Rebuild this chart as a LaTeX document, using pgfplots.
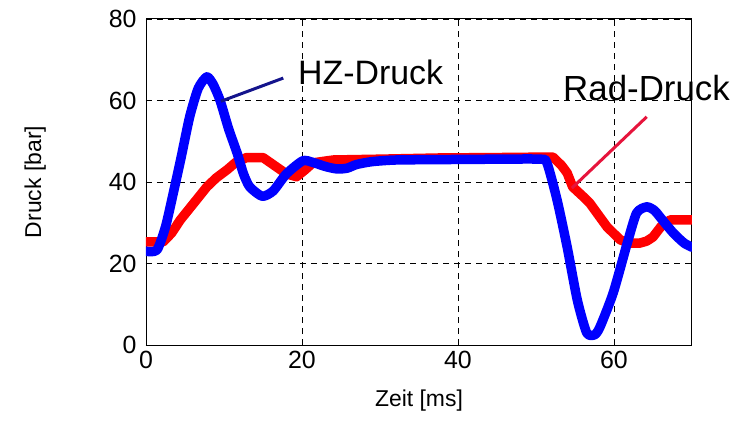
\documentclass[border=0pt]{standalone}
\usepackage{pgfplots}
\pgfplotsset{compat=1.18}
\usepackage{fontspec}
\setmainfont{Liberation Sans}
\definecolor{hzline}{RGB}{20,20,140}
\definecolor{radline}{RGB}{230,20,60}

\begin{document}
\begin{tikzpicture}
\begin{axis}[
    scale only axis,
    width=546bp, height=326bp,
    xmin=0, xmax=70, ymin=0, ymax=80,
    xtick={0,20,40,60}, ytick={0,20,40,60,80},
    grid=major,
    grid style={black, line width=0.8pt, dash pattern=on 6bp off 5bp},
    axis line style={black, line width=1pt},
    tick style={black, line width=0.8pt},
    tick align=inside,
    major tick length=6bp,
    /pgf/number format/assume math mode=true,
    ticklabel style={font=\fontsize{25}{30}\selectfont},
    xticklabel style={yshift=-3bp},
    yticklabel style={xshift=-6bp},
    label style={font=\fontsize{23}{26}\selectfont},
    xlabel={Zeit [ms]},
    ylabel={Druck [bar]},
    xlabel style={at={(axis description cs:0.5,-0.169)}, anchor=center},
    ylabel style={at={(axis description cs:-0.203,0.5)}, anchor=center},
    clip=true,
]
\addplot[red, line width=9.5bp, line join=round, line cap=round] coordinates {
(0,25.3) (2.2,25.3) (3.3,27.5) (4.4,30.7) (6,34.5) (7.8,38.8) (9,41)
(10.4,43) (11.5,44.8) (12.9,46) (15,46) (16.5,44) (18,42) (19.3,41.3)
(20.4,43) (21.4,44.7) (24,45.4) (30,45.6) (37.7,45.9) (45,46) (50.5,46.1)
(52.2,46.1) (53.3,44) (54,42.2) (54.7,38.8) (56,36.5) (56.9,34.8)
(59.1,29) (60.8,25.8) (62,25) (63.3,25) (64.2,25.5) (65,26.5) (66,29)
(67.2,30.7) (70,30.7)
};
\addplot[blue, line width=9.5bp, line join=round, line cap=round, smooth, tension=0.4] coordinates {
(0,23) (1.4,23.3) (2.5,29) (3.5,37.3) (4.5,46) (5.6,56) (6.7,63) (7.8,65.8)
(8.6,64) (9.5,60) (10.6,53) (11.7,47) (12.5,42) (13.3,38.8) (14.9,36.5)
(16.3,37.8) (18,42) (20.1,45.2) (21.4,44.8) (23,43.8) (24.5,43.2)
(25.8,43.4) (27,44.3) (29,45) (32,45.4) (37.7,45.5) (45,45.6) (50.5,45.6)
(51.4,44.7) (52.7,35.6) (54,24) (55.3,11) (56.5,3) (57.5,2.5) (58.2,4.4)
(59.9,12.8) (61.7,25) (62.9,32.4) (64.2,33.9) (65.2,33) (65.9,31.4)
(67.6,27.5) (69,25) (70,24)
};
\draw[hzline, line width=3bp] (axis cs:17.6,65.5) -- (axis cs:9.6,59.8);
\draw[radline, line width=3bp] (axis cs:64.2,56) -- (axis cs:54.6,38.5);
\end{axis}
% annotation texts, placed on the page outside the axis clip
\node[font=\fontsize{34}{38}\selectfont, anchor=west, inner sep=0pt] at (152bp,273bp) {HZ-Druck};
\node[font=\fontsize{35}{38}\selectfont, anchor=west, inner sep=0pt] at (417bp,257bp) {Rad-Druck};
\pgfresetboundingbox
\path[use as bounding box] (-146bp,-78bp) rectangle (600bp,345bp);
\end{tikzpicture}
\end{document}
